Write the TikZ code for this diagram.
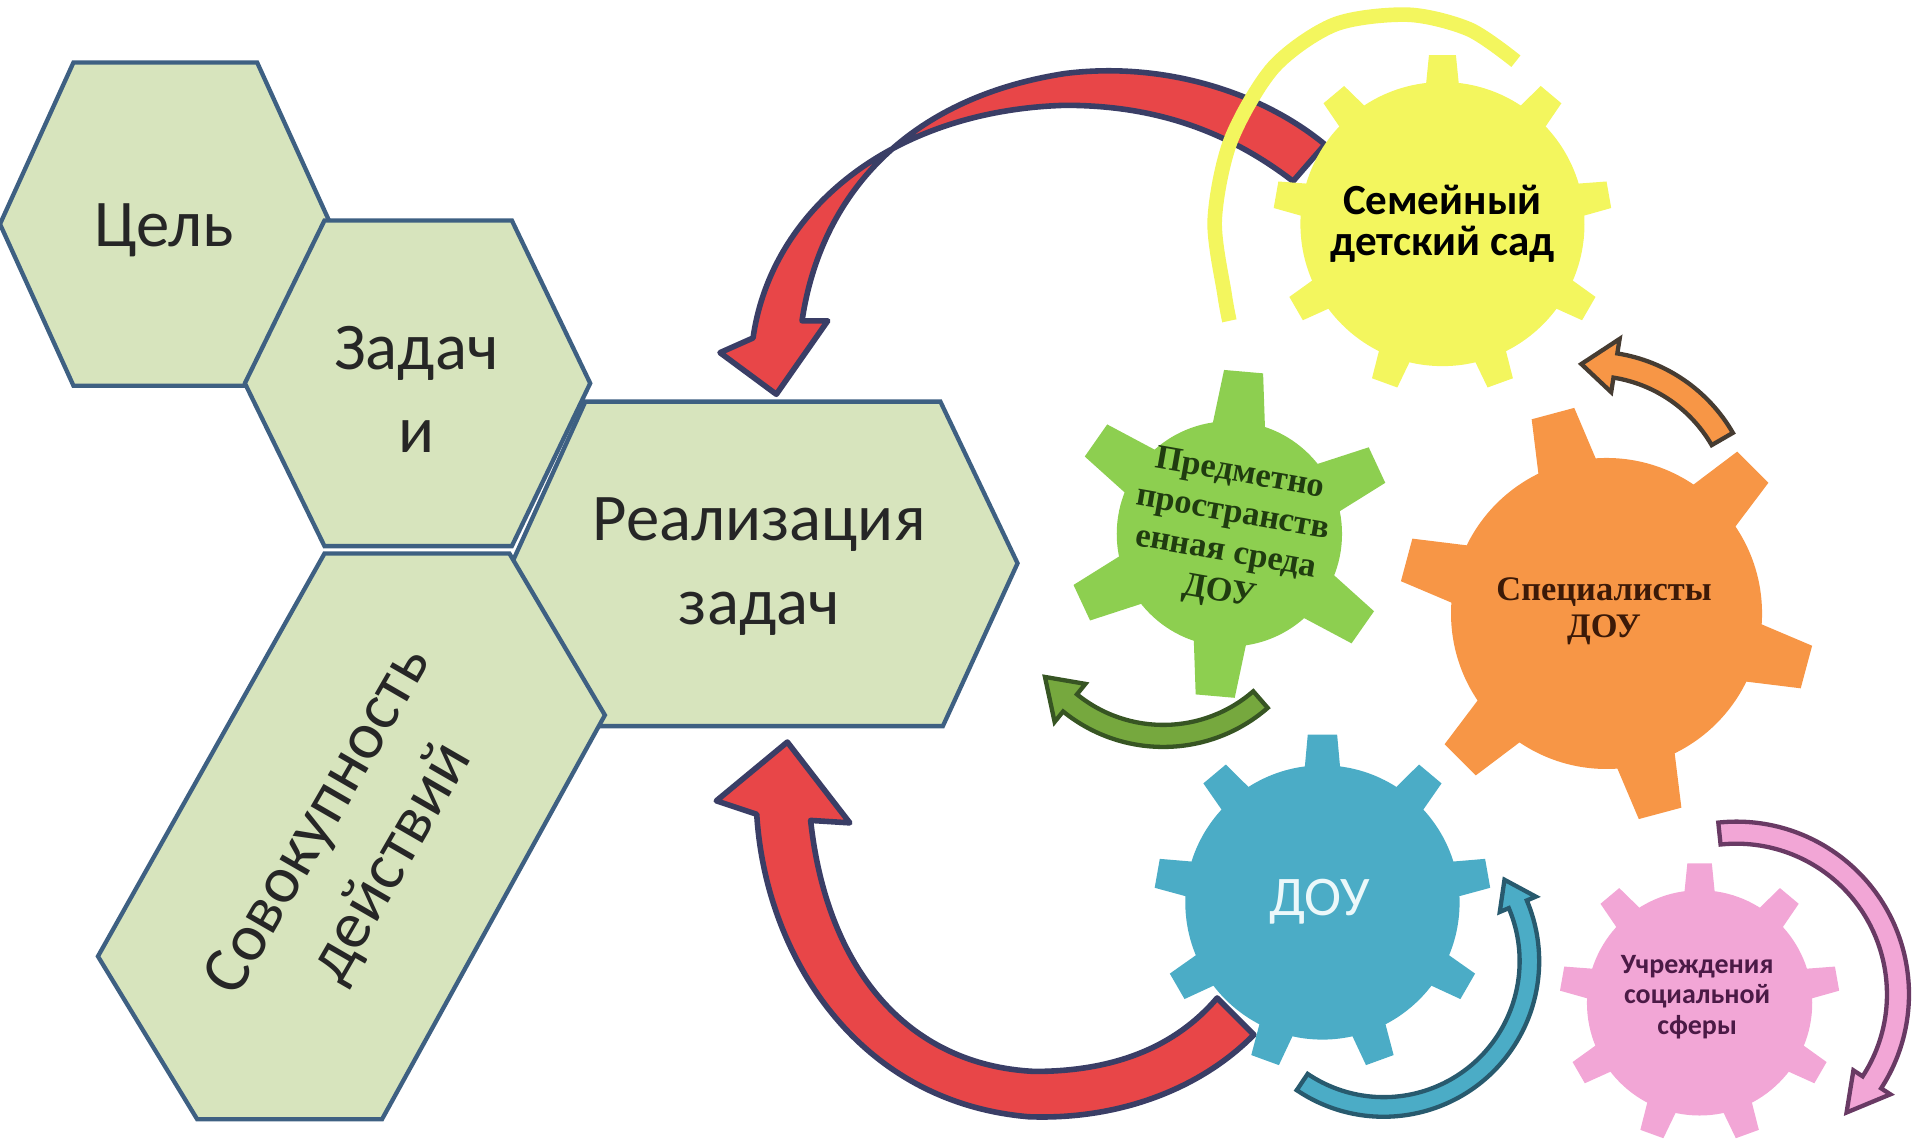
\documentclass[tikz,border=0pt]{standalone}
\usepackage{fontspec}
\setmainfont{Carlito}
\newfontfamily\timesfont{Liberation Serif}
\usetikzlibrary{calc}

\definecolor{hexfill}{RGB}{215,228,189}
\definecolor{hexline}{RGB}{62,96,130}
\definecolor{redfill}{RGB}{232,70,72}
\definecolor{navyline}{RGB}{58,62,102}
\definecolor{gyellow}{RGB}{243,246,94}
\definecolor{ggreen}{RGB}{141,207,80}
\definecolor{gorange}{RGB}{247,150,70}
\definecolor{gblue}{RGB}{75,172,198}
\definecolor{gpink}{RGB}{242,166,214}
\definecolor{agreen}{RGB}{118,168,62}

% gear: centre, body radius, tooth radius, base half width, top half width, tooth angles, colour
\newcommand\gearshape[7]{%
  \fill[#7] (#1) circle[radius=#2];
  \foreach \a in {#6}
    \fill[#7, shift={(#1)}, rotate=\a] ({#2-8},{-#4}) -- (#3,{-#5}) -- (#3,#5) -- ({#2-8},#4) -- cycle;
}
% curved arrow: style, centre, radius, start, head base, tip, head half width, band half width
\newcommand\arcarrow[8]{%
  \filldraw[#1] ($(#2)+(#4:{#3+#8})$) arc[start angle=#4, end angle=#5, radius={#3+#8}]
    -- ($(#2)+(#5:{#3+#7})$) -- ($(#2)+(#6:#3)$) -- ($(#2)+(#5:{#3-#7})$)
    -- ($(#2)+(#5:{#3-#8})$) arc[start angle=#5, end angle=#4, radius={#3-#8}] -- cycle;
}

\begin{document}
\begin{tikzpicture}[x=0.1mm, y=0.1mm,
    hexa/.style={draw=hexline, fill=hexfill, line width=1pt},
    hexlabel/.style={font=\fontsize{15.5}{19.5}\selectfont, align=center, text=black!85},
    redarrow/.style={fill=redfill, draw=navyline, line width=1.3pt, line join=round}]
  \useasboundingbox (0,0) rectangle (1568,-937);

  % honeycomb
  \draw[hexa] (0,-183) -- (60,-51) -- (210,-51) -- (270,-183) -- (210,-315) -- (60,-315) -- cycle;
  \draw[hexa] (200,-313) -- (265,-180) -- (418,-180) -- (482,-313) -- (418,-446) -- (265,-446) -- cycle;
  \draw[hexa] (418,-460) -- (478,-328) -- (768,-328) -- (831,-460) -- (770,-593) -- (488,-593) -- cycle;
  \draw[hexa] (265,-452) -- (416,-452) -- (494,-584) -- (312,-914) -- (161,-914) -- (80,-781) -- cycle;
  \node[hexlabel] (cel) at (134,-188) {Цель};
  \node[hexlabel] (zad) at (340,-318) {Задач\\и};
  \node[hexlabel] (real) at (620,-463) {Реализация\\задач};
  \node[hexlabel, rotate=60] (sov) at (291,-688) {Совокупность\\действий};

  % big red arrows
  \filldraw[redarrow] (655,-262) -- (676,-262) -- (634,-322) -- (588,-288) -- (615,-276)
    .. controls (630,-170) and (730,-90) .. (870,-86)
    .. controls (940,-86) and (1000,-105) .. (1056,-148) -- (1082,-118)
    .. controls (1030,-75) and (950,-50) .. (870,-60)
    .. controls (740,-80) and (670,-160) .. (655,-262) -- cycle;
  \filldraw[redarrow] (662,-670) -- (694,-672) -- (643,-606) -- (585,-654) -- (618,-665)
    .. controls (625,-780) and (700,-900) .. (840,-912)
    .. controls (920,-915) and (985,-885) .. (1024,-845) -- (994,-815)
    .. controls (960,-855) and (910,-875) .. (845,-875)
    .. controls (740,-870) and (675,-790) .. (662,-670) -- cycle;
  \draw[gyellow, line width=3.4pt] plot[smooth] coordinates {(1238,-50) (1200,-24) (1150,-12) (1090,-20) (1040,-55) (1005,-115) (992,-180) (1000,-240) (1004,-262)};

  % gears
  \coordinate (gy) at (1178,-183);
  \coordinate (gg) at (1004,-436);
  \coordinate (go) at (1312,-501);
  \coordinate (gb) at (1080,-737);
  \coordinate (gp) at (1388,-819);
  \gearshape{gy}{116}{138}{14}{11}{10,50,...,330}{gyellow}
  \gearshape{gg}{92}{133}{22}{16}{25,85,...,325}{ggreen}
  \gearshape{go}{127}{169}{25}{18}{45,105,...,345}{gorange}
  \gearshape{gb}{112}{137}{15}{12}{10,50,...,330}{gblue}
  \gearshape{gp}{92}{114}{13}{10}{10,50,...,330}{gpink}
  \node[font=\bfseries\fontsize{10}{9.6}\selectfont, align=center] (sad) at (gy) {Семейный\\детский сад};
  \node[font=\timesfont\bfseries\fontsize{8}{9.3}\selectfont, align=center, text={rgb,255:red,32;green,60;blue,16}, rotate=-10] (sreda) at (gg) {Предметно\\пространств\\енная среда\\ДОУ};
  \node[font=\timesfont\bfseries\fontsize{8}{8.5}\selectfont, align=center, text={rgb,255:red,60;green,26;blue,8}] (spec) at (1310,-499) {Специалисты\\ДОУ};
  \node[font=\fontsize{13}{15}\selectfont, text={rgb,255:red,235;green,248;blue,250}] (dou) at (1078,-736) {ДОУ};
  \node[font=\bfseries\fontsize{6.5}{7.1}\selectfont, align=center, text={rgb,255:red,75;green,26;blue,70}] (soc) at (1386,-814) {Учреждения\\социальной\\сферы};

  % small arrows round the gears
  \coordinate (ao) at (1300,-420);
  \coordinate (ag) at (950,-480);
  \coordinate (ab) at (1130,-785);
  \coordinate (ap) at (1418,-812);
  \arcarrow{fill=gorange, draw={rgb,255:red,70;green,60;blue,50}, line width=1pt}{ao}{123}{30}{81}{94}{22}{10}
  \arcarrow{fill=agreen, draw={rgb,255:red,55;green,85;blue,35}, line width=1pt}{ag}{121}{311}{231}{217}{20}{9}
  \arcarrow{fill=gblue, draw={rgb,255:red,40;green,90;blue,110}, line width=1pt}{ab}{119}{236}{383}{394}{16}{8}
  \arcarrow{fill=gpink, draw={rgb,255:red,105;green,58;blue,100}, line width=1pt}{ap}{132}{96}{-33}{-47}{18}{9}
\end{tikzpicture}
\end{document}
